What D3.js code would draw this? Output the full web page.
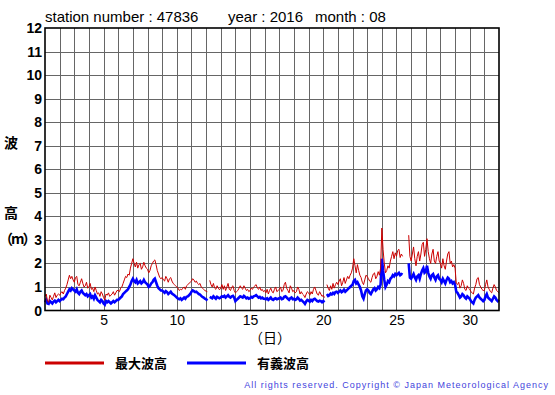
<!DOCTYPE html>
<html>
<head>
<meta charset="utf-8">
<script src="https://cdn.jsdelivr.net/npm/d3@7"></script>
<style>
  body { margin: 0; background: #fff; }
  svg { display: block; }
  .jp { font-family: "Noto Sans CJK JP", sans-serif; }
</style>
</head>
<body>
<div id="chart"></div>
<script>
// station 47836, Aug 2016, 2-hourly values (hour 0,2,...,22 per day, last = day 32 00h)
const stationNo = '47836';
const year = '2016';
const month = '08';
const xTicks = [5, 10, 15, 20, 25, 30];
const yTicks = [0, 1, 2, 3, 4, 5, 6, 7, 8, 9, 10, 11, 12];
const stepHours = 2;

// 最大波高 (m)
const maxWave = [
  .60, .70, .40, .35, .65, .55, .45, .60, .75, .55, .65, .70,
  .65, .75, .80, .70, .85, .95, 1.10, 1.30, 1.50, 1.35, 1.45, 1.30,
  1.20, 1.40, 1.45, 1.10, 1.05, 1.20, 1.35, 1.15, 1.00, 1.05, 1.20, .95,
  1.00, 1.15, .90, .95, .80, 1.00, .85, .70, .75, .60, .80, .70,
  .55, .45, .70, .65, .75, .60, .65, .70, .80, .65, .75, .85,
  .85, .80, .95, 1.00, 1.15, 1.30, 1.45, 1.40, 1.55, 1.50, 1.80, 2.00,
  2.20, 2.00, 1.85, 2.05, 1.80, 1.95, 2.00, 1.75, 1.85, 2.05, 1.90, 1.80,
  1.75, 1.60, 1.70, 1.90, 2.00, 2.10, 2.15, 1.95, 1.70, 1.55, 1.40, 1.35,
  1.40, 1.30, 1.25, 1.45, 1.35, 1.20, 1.35, 1.40, 1.25, 1.15, 1.10, 1.05,
  1.00, .95, .85, .90, .88, .95, 1.00, .90, 1.05, 1.10, 1.15, 1.20,
  1.25, 1.35, 1.30, 1.20, 1.25, 1.15, 1.10, 1.15, 1.00, .95, .90, .85,
  .82, .80, null, 1.28, 1.10, 1.00, 1.15, .95, .90, 1.05, .95, .88,
  .95, 1.10, .90, 1.05, .85, 1.00, 1.15, .90, .85, 1.00, 1.05, .85,
  .75, .80, .85, .95, 1.05, .95, .90, 1.05, .95, .85, .90, .80,
  .85, .95, .90, 1.00, 1.05, 1.10, .95, .90, 1.00, .85, .90, .80,
  .85, .75, .90, .70, .85, .95, .80, .75, .90, 1.00, .80, .85,
  .90, 1.00, .80, .85, 1.10, 1.20, .95, .85, .75, 1.05, .95, .80,
  .85, .75, .80, 1.00, .90, .70, .80, .70, .65, .55, .70, .80,
  .75, .65, .80, .70, .90, 1.00, .85, .70, .65, .80, .70, .60,
  .65, .55, null, 1.10, .95, .85, 1.05, .90, 1.15, .95, 1.10, 1.20,
  1.10, 1.25, 1.35, 1.05, 1.20, 1.40, 1.15, 1.30, 1.45, 1.35, 1.50, 1.60,
  1.80, 2.20, 1.90, 1.60, 1.95, 1.70, 1.50, 1.40, 1.20, 1.10, 1.30, 1.50,
  1.45, 1.35, 1.25, 1.20, 1.40, 1.55, 1.60, 1.35, 1.45, 1.65, 1.50, 1.80,
  3.50, 2.60, 2.00, 1.60, 1.70, 1.90, 1.80, 2.10, 2.30, 2.50, 2.20, 2.45,
  2.30, 2.55, 2.60, 2.25, 2.40, 2.30, null, null, null, null, 3.20, 2.30,
  2.10, 2.40, 2.70, 2.20, 1.90, 2.30, 2.50, 2.10, 2.40, 2.80, 2.90, 2.30,
  2.60, 3.05, 2.50, 2.20, 2.00, 2.40, 2.60, 2.10, 2.00, 2.30, 2.50, 2.10,
  2.00, 1.80, 2.20, 1.90, 1.75, 2.10, 2.40, 2.50, 2.00, 2.10, 1.85, 1.95,
  1.80, 1.15, 1.10, 1.20, .95, 1.05, 1.30, 1.15, .90, .85, 1.05, .95,
  .90, .80, .75, .70, .95, 1.10, 1.35, 1.40, 1.10, 1.00, .90, .85,
  .85, 1.10, 1.30, 1.00, .90, .80, .75, .95, 1.10, 1.00, .85, .80,
  .75
];

// 有義波高 (m)
const sigWave = [
  .35, .45, .30, .28, .40, .35, .30, .38, .42, .35, .40, .45,
  .40, .45, .50, .48, .55, .60, .70, .80, .90, .85, .95, .90,
  .85, .80, .90, .75, .70, .80, .85, .75, .70, .65, .70, .60,
  .65, .70, .55, .60, .50, .65, .55, .45, .40, .35, .45, .40,
  .30, .25, .40, .35, .40, .35, .30, .35, .40, .35, .40, .45,
  .45, .50, .55, .60, .70, .75, .80, .85, .90, 1.00, 1.10, 1.25,
  1.35, 1.25, 1.20, 1.30, 1.15, 1.20, 1.25, 1.15, 1.20, 1.30, 1.20, 1.15,
  1.10, 1.00, 1.05, 1.15, 1.20, 1.30, 1.35, 1.20, 1.05, .95, .90, .85,
  .85, .80, .75, .82, .78, .70, .75, .80, .72, .68, .65, .60,
  .55, .50, .48, .52, .45, .50, .55, .50, .58, .60, .65, .70,
  .80, .85, .82, .78, .80, .75, .70, .68, .62, .58, .55, .50,
  .48, .42, null, .58, .55, .52, .60, .55, .50, .58, .55, .52,
  .55, .60, .58, .62, .55, .60, .65, .58, .55, .60, .62, .55,
  .40, .45, .50, .55, .60, .58, .55, .62, .58, .52, .55, .50,
  .52, .58, .55, .60, .62, .65, .60, .55, .58, .52, .55, .50,
  .50, .48, .52, .45, .50, .55, .48, .45, .50, .52, .48, .50,
  .52, .55, .48, .50, .58, .60, .55, .50, .45, .52, .55, .48,
  .50, .45, .48, .55, .50, .42, .45, .40, .35, .28, .38, .45,
  .42, .38, .45, .40, .48, .50, .45, .40, .38, .42, .40, .35,
  .40, .35, null, .70, .62, .65, .72, .68, .75, .70, .78, .80,
  .75, .80, .85, .78, .82, .88, .80, .85, .90, .95, 1.00, 1.05,
  1.10, 1.25, 1.30, 1.15, 1.20, 1.10, 1.00, .85, .60, .50, .70, .85,
  .90, .85, .75, .70, .80, .90, .95, .85, .90, 1.00, .95, 1.10,
  2.20, 1.70, 1.30, 1.00, 1.10, 1.25, 1.20, 1.35, 1.40, 1.50, 1.45, 1.55,
  1.50, 1.55, 1.60, 1.50, 1.55, 1.52, null, null, null, null, 2.00, 1.40,
  1.35, 1.45, 1.55, 1.40, 1.30, 1.45, 1.50, 1.35, 1.55, 1.70, 1.80, 1.60,
  1.65, 1.90, 1.60, 1.45, 1.35, 1.50, 1.55, 1.40, 1.30, 1.45, 1.50, 1.35,
  1.30, 1.20, 1.35, 1.25, 1.15, 1.30, 1.40, 1.35, 1.20, 1.25, 1.15, 1.20,
  1.10, .80, .75, .65, .55, .60, .70, .65, .55, .50, .60, .55,
  .50, .40, .35, .30, .45, .55, .60, .65, .55, .50, .45, .40,
  .45, .60, .70, .55, .50, .45, .40, .50, .60, .55, .45, .40,
  .45
];

const legendLabels = ['最大波高', '有義波高'];
const seriesColors = ['#cc0000', '#0000ff'];

const W = 555, H = 395;
const plotL = 45, plotR = 499, plotT = 28, plotB = 310.5;

const svg = d3.select('#chart').append('svg')
  .attr('width', W)
  .attr('height', H)
  .style('font-family', '"Liberation Sans", Arial, sans-serif');

const x = d3.scaleLinear().domain([1, 32]).range([plotL, plotR]);
const y = d3.scaleLinear().domain([0, 12]).range([plotB, plotT]);

// grid
const grid = svg.append('g').attr('stroke', '#666').attr('stroke-width', 1);
grid.selectAll('line.v')
  .data(d3.range(2, 32))
  .enter().append('line')
    .attr('x1', d => Math.round(x(d)) + 0.5)
    .attr('x2', d => Math.round(x(d)) + 0.5)
    .attr('y1', plotT)
    .attr('y2', plotB);
grid.selectAll('line.h')
  .data(yTicks.slice(1, -1))
  .enter().append('line')
    .attr('x1', plotL)
    .attr('x2', plotR)
    .attr('y1', d => Math.round(y(d)) + 0.5)
    .attr('y2', d => Math.round(y(d)) + 0.5);

// y axis labels
svg.append('g').selectAll('text')
  .data(yTicks)
  .enter().append('text')
    .attr('x', plotL - 3)
    .attr('y', d => y(d) + 5)
    .attr('text-anchor', 'end')
    .attr('font-size', 14)
    .attr('font-weight', 'bold')
    .text(d => d);

// x axis labels
const xAxis = d3.axisBottom(x).tickValues(xTicks).tickSize(0).tickPadding(5);
svg.append('g')
  .attr('transform', `translate(0,${plotB})`)
  .call(xAxis)
  .call(g => g.select('.domain').remove())
  .selectAll('text')
    .attr('font-size', 14)
    .attr('font-family', '"Liberation Sans", Arial, sans-serif')
    .attr('fill', '#000');

// series
const pts = arr => arr.map((v, i) => ({ t: 1 + i * stepHours / 24, v: v }));
const line = d3.line()
  .defined(d => d.v !== null)
  .x(d => x(d.t))
  .y(d => y(d.v));

const plot = svg.append('g');
plot.append('path')
  .datum(pts(sigWave))
  .attr('fill', 'none')
  .attr('stroke', seriesColors[1])
  .attr('stroke-width', 2.6)
  .attr('d', line);
plot.append('path')
  .datum(pts(maxWave))
  .attr('fill', 'none')
  .attr('stroke', seriesColors[0])
  .attr('stroke-width', 1)
  .attr('d', line);

// frame
svg.append('rect')
  .attr('x', plotL)
  .attr('y', plotT)
  .attr('width', plotR - plotL)
  .attr('height', plotB - plotT)
  .attr('fill', 'none')
  .attr('stroke', '#000')
  .attr('stroke-width', 1.6);

// title
const title = svg.append('g').attr('font-size', 15).attr('fill', '#000');
title.append('text').attr('x', 45).attr('y', 22).text(`station number : ${stationNo}`);
title.append('text').attr('x', 228).attr('y', 22).text(`year : ${year}`);
title.append('text').attr('x', 315).attr('y', 22).text(`month : ${month}`);

// axis titles
const jp = svg.append('g').attr('class', 'jp').attr('font-size', 14).attr('font-weight', 'bold');
jp.append('text').attr('x', 4).attr('y', 148).text('波');
jp.append('text').attr('x', 4).attr('y', 218).text('高');
jp.append('text').attr('x', -1).attr('y', 244).text('（m）').attr('letter-spacing', -2);
jp.append('text').attr('x', 270).attr('y', 343).attr('text-anchor', 'middle').attr('font-size', 14).attr('font-weight', 'normal').text('（日）');

// legend
const legend = svg.append('g').attr('transform', 'translate(0,363)');
legendLabels.forEach((lab, i) => {
  const lx = 45 + i * 142;
  legend.append('line')
    .attr('x1', lx).attr('x2', lx + 59)
    .attr('y1', 0).attr('y2', 0)
    .attr('stroke', seriesColors[i])
    .attr('stroke-width', 3);
  legend.append('text')
    .attr('class', 'jp')
    .attr('x', lx + 70)
    .attr('y', 5)
    .attr('font-size', 13)
    .attr('font-weight', 'bold')
    .text(lab);
});

svg.append('text')
  .attr('x', 549)
  .attr('y', 388)
  .attr('text-anchor', 'end')
  .attr('font-size', 9)
  .attr('letter-spacing', 1)
  .attr('fill', '#4444dd')
  .text('All rights reserved. Copyright \u00a9 Japan Meteorological Agency');
</script>
</body>
</html>
